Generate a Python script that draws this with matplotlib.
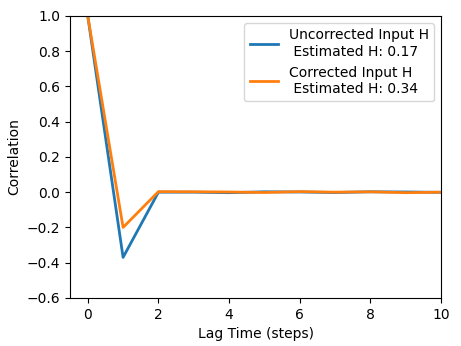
import numpy as np
import matplotlib
matplotlib.use('Agg')
import matplotlib.pyplot as plt

# Autocorrelation values
lags = [0, 1, 2, 3, 4, 5, 6, 7, 8, 9, 10, 11]
acf_uncorrected = [1.0, -0.37, 0.0, 0.0, -0.003, 0.002, 0.001, -0.002, 0.002, 0.001, -0.001, 0.0]
acf_corrected = [1.0, -0.20, 0.003, 0.002, 0.001, -0.002, 0.003, 0.0, 0.002, -0.003, 0.0, 0.001]

fig, ax = plt.subplots(figsize=(4.61, 3.46), dpi=100)
ax.plot(lags, acf_uncorrected, lw=2, label='Uncorrected Input H\n Estimated H: 0.17')
ax.plot(lags, acf_corrected, lw=2, label='Corrected Input H\n Estimated H: 0.34')
ax.set_xlim(-0.5, 10)
ax.set_ylim(-0.6, 1.0)
ax.set_xlabel('Lag Time (steps)')
ax.set_ylabel('Correlation')
ax.legend(loc='upper right')
fig.subplots_adjust(left=0.152, right=0.957, top=0.954, bottom=0.139)
fig.savefig('out.png')
